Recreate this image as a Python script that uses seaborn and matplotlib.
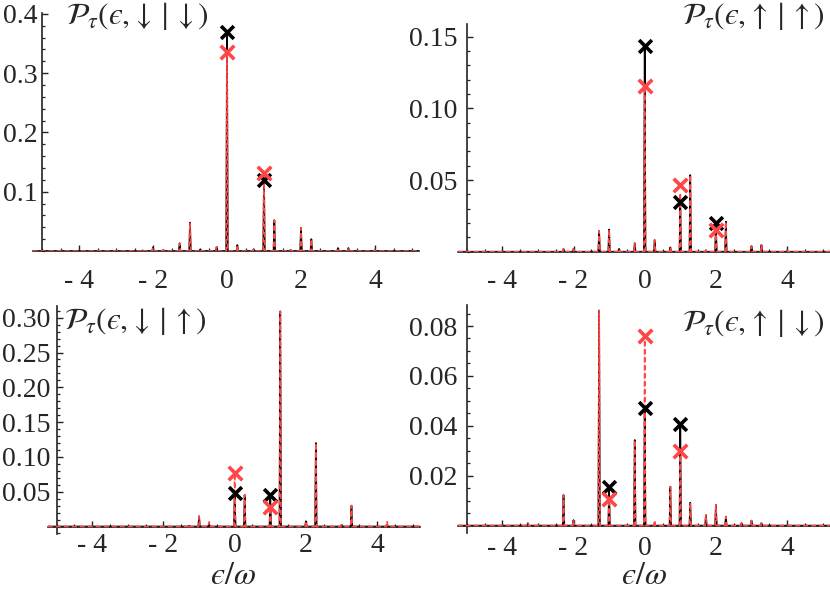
import numpy as np
import pandas as pd
import matplotlib
matplotlib.use("Agg")
import matplotlib.pyplot as plt
import seaborn as sns
from matplotlib.ticker import MultipleLocator, FixedLocator, FixedFormatter

sns.set_theme(style="white")
plt.rcParams['font.family'] = ['Liberation Serif', 'DejaVu Serif']
plt.rcParams['mathtext.fontset'] = 'stix'

# ---------------- data ----------------
titles = ['$\\mathcal{P}_\\tau(\u03f5,\\!\\downarrow\\mid\\downarrow)$',
          '$\\mathcal{P}_\\tau(\u03f5,\\!\\uparrow\\mid\\uparrow)$',
          '$\\mathcal{P}_\\tau(\u03f5,\\!\\downarrow\\mid\\uparrow)$',
          '$\\mathcal{P}_\\tau(\u03f5,\\!\\uparrow\\mid\\downarrow)$']
xlabel_text = '$\u03f5/\\omega$'

# panel 1: down|down
p1_pos   = [-2.28, -2.0, -1.72, -1.28, -1.0, -0.72, -0.28, 0.0, 0.28, 0.72, 1.0, 1.28, 1.72, 2.0, 2.28, 3.0, 3.28, 4.0]
p1_black = [0.001, 0.006, 0.002, 0.013, 0.048, 0.003, 0.007, 0.369, 0.010, 0.003, 0.120, 0.052, 0.002, 0.039, 0.020, 0.005, 0.005, 0.002]
p1_red   = [0.003, 0.006, 0.002, 0.013, 0.048, 0.003, 0.007, 0.336, 0.010, 0.003, 0.131, 0.052, 0.002, 0.039, 0.020, 0.005, 0.005, 0.002]
p1_mx    = [0, 1]
p1_mblack = [0.369, 0.120]
p1_mred   = [0.336, 0.131]

# panel 2: up|up
p2_pos   = [-2.28, -2.0, -1.28, -1.0, -0.72, -0.28, 0.0, 0.28, 0.72, 1.0, 1.28, 1.72, 2.0, 2.28, 3.0, 3.28, 4.0]
p2_black = [0.002, 0.002, 0.0145, 0.0155, 0.002, 0.006, 0.1437, 0.0082, 0.003, 0.0349, 0.0535, 0.001, 0.0198, 0.021, 0.004, 0.0048, 0.001]
p2_red   = [0.002, 0.002, 0.0145, 0.0155, 0.002, 0.006, 0.1156, 0.0082, 0.003, 0.0410, 0.0535, 0.001, 0.0151, 0.021, 0.004, 0.0048, 0.001]
p2_mx    = [0, 1, 2]
p2_mblack = [0.1437, 0.0349, 0.0198]
p2_mred   = [0.1156, 0.0465, 0.0151]

# panel 3: down|up
p3_pos   = [-1.28, -1.0, -0.72, 0.0, 0.28, 1.0, 1.28, 2.0, 2.28, 3.0, 3.28, 4.28]
p3_black = [0.001, 0.0148, 0.004, 0.048, 0.0455, 0.045, 0.309, 0.0076, 0.120, 0.002, 0.030, 0.002]
p3_red   = [0.003, 0.0148, 0.0067, 0.077, 0.0455, 0.028, 0.309, 0.0076, 0.120, 0.002, 0.030, 0.008]
p3_mx    = [0, 1]
p3_mblack = [0.048, 0.045]
p3_mred   = [0.077, 0.028]

# panel 4: up|down
p4_pos   = [-3.28, -2.28, -2.0, -1.28, -1.0, -0.28, 0.0, 0.28, 0.72, 1.0, 1.28, 1.72, 2.0, 2.28, 2.72, 3.0, 3.28]
p4_black = [0.001, 0.0123, 0.0022, 0.0862, 0.0154, 0.0343, 0.047, 0.001, 0.0156, 0.0406, 0.0092, 0.0042, 0.0083, 0.0036, 0.001, 0.002, 0.001]
p4_red   = [0.001, 0.0123, 0.0022, 0.0862, 0.0107, 0.0343, 0.0761, 0.0022, 0.0156, 0.0299, 0.0092, 0.0042, 0.0083, 0.0036, 0.001, 0.002, 0.001]
p4_mx    = [-1, 0, 1]
p4_mblack = [0.0154, 0.047, 0.0406]
p4_mred   = [0.0107, 0.0761, 0.0299]

xticks = [-4, -2, 0, 2, 4]
xticklabels = ['- 4', '- 2', '0', '2', '4']
yticks = [[0.1, 0.2, 0.3, 0.4], [0.05, 0.10, 0.15],
          [0.05, 0.10, 0.15, 0.20, 0.25, 0.30], [0.02, 0.04, 0.06, 0.08]]
yticklabels = [['0.1', '0.2', '0.3', '0.4'], ['0.05', '0.10', '0.15'],
               ['0.05', '0.10', '0.15', '0.20', '0.25', '0.30'],
               ['0.02', '0.04', '0.06', '0.08']]
yminor = [0.02, 0.01, 0.01, 0.005]
ylims = [(0, 0.402), (0, 0.159), (-0.0105, 0.3175), (-0.0028, 0.0884)]

panels = [
    (p1_pos, p1_black, p1_red, p1_mx, p1_mblack, p1_mred),
    (p2_pos, p2_black, p2_red, p2_mx, p2_mblack, p2_mred),
    (p3_pos, p3_black, p3_red, p3_mx, p3_mblack, p3_mred),
    (p4_pos, p4_black, p4_red, p4_mx, p4_mblack, p4_mred),
]

# ---------------- layout (pixels) ----------------
W, H = 830, 595
XLIM = (-5.25, 5.2)
# (x of data 0, px per unit x, y of data 0, px per unit y)
geo = [(227.0, 37.0, 251.0, 593.0),
       (644.7, 35.6, 251.7, 1433.0),
       (234.7, 35.6, 526.5, 696.0),
       (644.7, 35.6, 525.6, 2495.0)]
xpads = [13.0, 12.5, 5.0, 7.5]
ypads = [3.5, 6.5, 4.5, 6.5]
title_pos = [(66, 16, 'left'), (825, 16, 'right'), (64, 321, 'left'), (825, 323, 'right')]

RED = '#ff4747'
SPW = 0.022


def spike_curve(pos, h):
    xs, ys = [XLIM[0]], [0.0]
    for p, v in sorted(zip(pos, h)):
        xs += [p - SPW, p, p + SPW]
        ys += [0.0, v, 0.0]
    xs.append(XLIM[1]); ys.append(0.0)
    return pd.DataFrame({'x': xs, 'y': ys})


fig = plt.figure(figsize=(W / 100, H / 100), dpi=100)

for i, (pos, hb, hr, mx, mb, mr) in enumerate(panels):
    x0, ux, y0, uy = geo[i]
    left = x0 + XLIM[0] * ux
    right = x0 + XLIM[1] * ux
    top = y0 - ylims[i][1] * uy
    bot = y0 - ylims[i][0] * uy
    ax = fig.add_axes([left / W, 1 - bot / H, (right - left) / W, (bot - top) / H])
    ax.patch.set_alpha(0)

    sns.lineplot(data=spike_curve(pos, hb), x='x', y='y', ax=ax, color='black',
                 lw=1.2, sort=False, estimator=None, zorder=2)
    sns.lineplot(data=spike_curve(pos, hr), x='x', y='y', ax=ax, color=RED,
                 lw=1.2, sort=False, estimator=None, zorder=3,
                 linestyle=(0, (3.0, 1.8)))
    sns.scatterplot(x=mx, y=mb, ax=ax, marker='x', color='black', s=85,
                    linewidth=2.6, zorder=5)
    sns.scatterplot(x=mx, y=mr, ax=ax, marker='x', color=RED, s=95,
                    linewidth=2.6, zorder=5)

    ax.set_xlim(*XLIM)
    ax.set_ylim(*ylims[i])
    ax.set_xlabel('')
    ax.set_ylabel('')
    for s in ['top', 'right']:
        ax.spines[s].set_visible(False)
    ax.spines['left'].set_position(('data', -5))
    ax.spines['bottom'].set_position(('data', 0))
    for s in ['left', 'bottom']:
        ax.spines[s].set_color('#222222')
        ax.spines[s].set_linewidth(1.2)

    ax.xaxis.set_major_locator(FixedLocator(xticks))
    ax.xaxis.set_major_formatter(FixedFormatter(xticklabels))
    ax.xaxis.set_minor_locator(MultipleLocator(0.5))
    ax.yaxis.set_major_locator(FixedLocator(yticks[i]))
    ax.yaxis.set_major_formatter(FixedFormatter(yticklabels[i]))
    ax.yaxis.set_minor_locator(MultipleLocator(yminor[i]))

    ax.tick_params(axis='both', which='both', direction='in', color='#222222',
                   labelsize=20, bottom=True, left=True)
    ax.tick_params(axis='both', which='major', length=4.0, width=1.0)
    ax.tick_params(axis='both', which='minor', length=2.2, width=0.9)
    ax.tick_params(axis='x', which='major', pad=xpads[i])
    ax.tick_params(axis='y', which='major', pad=ypads[i])

    tx, ty, ha = title_pos[i]
    fig.text(tx / W, 1 - ty / H, titles[i], fontsize=22.5, ha=ha, va='center')

fig.text(233 / W, 1 - 576 / H, xlabel_text, fontsize=23, ha='center', va='center')
fig.text(644 / W, 1 - 576 / H, xlabel_text, fontsize=23, ha='center', va='center')

fig.savefig('out.png', dpi=100)
